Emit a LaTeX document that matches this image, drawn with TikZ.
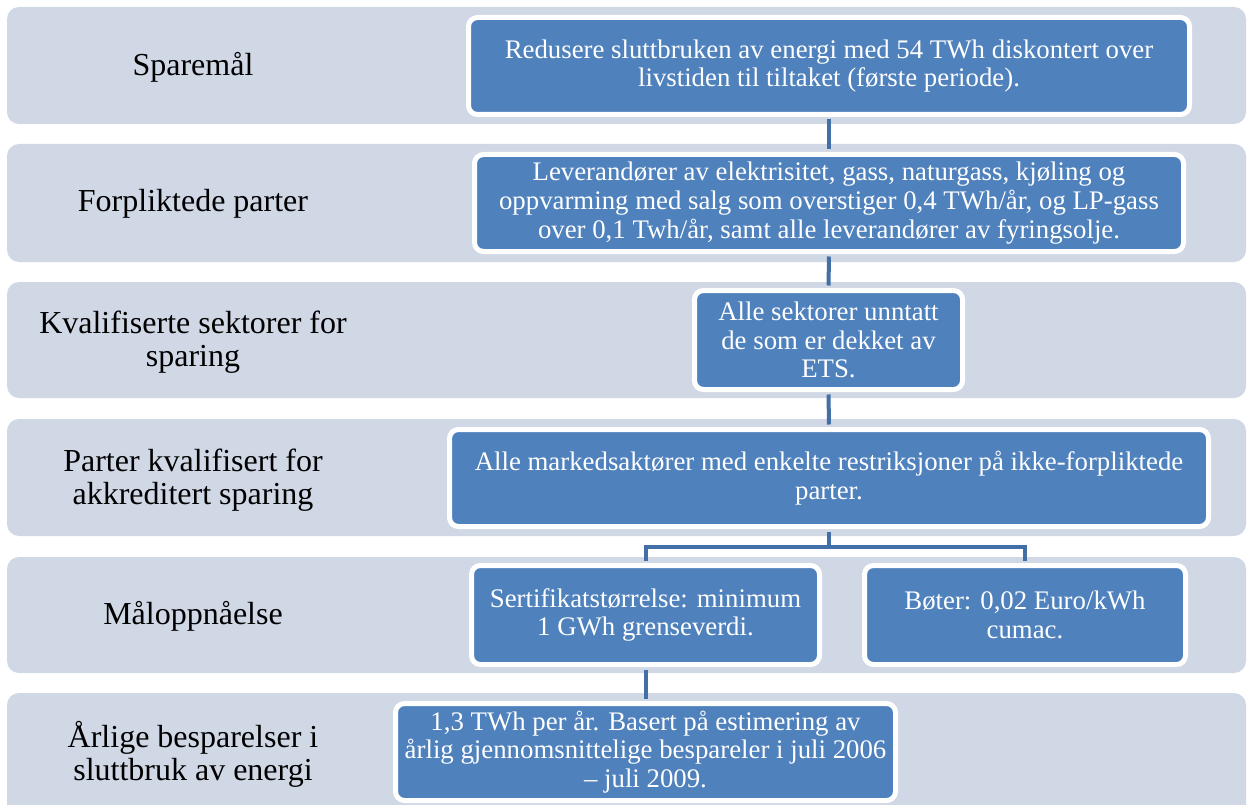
\documentclass[tikz,border=0pt]{standalone}
\usepackage{fontspec}
\setmainfont{Liberation Serif}
\usetikzlibrary{calc}

\definecolor{bandgray}{RGB}{208,215,229}
\definecolor{boxblue}{RGB}{79,129,189}
\definecolor{lineblue}{RGB}{66,112,166}

\begin{document}
\begin{tikzpicture}[x=1pt, y=-1pt,
        band/.style={fill=bandgray, rounded corners=12pt},
        label/.style={align=center, font=\fontsize{32pt}{33pt}\selectfont},
        box/.style={fill=boxblue, draw=white, line width=5pt, rounded corners=9pt,
            text=white, align=center, inner sep=0pt,
            font=\fontsize{26.8pt}{28.8pt}\selectfont},
        link/.style={draw=lineblue, line width=4pt, shorten <=2.5pt, shorten >=2.5pt}]
        \clip (0,0) rectangle (1247,805);
        \fill[white] (0,0) rectangle (1247,805);

        % the six rows
        \fill[band] (7,7) rectangle (1246,124);
        \fill[band] (7,144) rectangle (1246,262);
        \fill[band] (7,282) rectangle (1246,398);
        \fill[band] (7,419) rectangle (1246,536);
        \fill[band] (7,557) rectangle (1246,673);
        \fill[band] (7,693) rectangle (1246,830);

        \node[label] (mal) at (193,67) {Sparemål};
        \node[label] (parter) at (193,204) {Forpliktede parter};
        \node[label] (sektor) at (193,342) {Kvalifiserte sektorer for\\sparing};
        \node[label] (akkred) at (193,480) {Parter kvalifisert for\\akkreditert sparing};
        \node[label] (oppn) at (193,616) {Måloppnåelse};
        \node[label] (besp) at (193,754) {Årlige besparelser i\\sluttbruk av energi};

        % the boxes
        \node[box, minimum width=721pt, minimum height=97pt] (b1) at (829,66)
            {Redusere sluttbruken av energi med 54 TWh diskontert over\\livstiden til tiltaket (første periode).};
        \node[box, minimum width=709pt, minimum height=97pt] (b2) at (829,203)
            {Leverandører av elektrisitet, gass, naturgass, kjøling og\\oppvarming med salg som overstiger 0,4 TWh/år, og LP-gass\\over 0,1 Twh/år, samt alle leverandører av fyringsolje.};
        \node[box, minimum width=268pt, minimum height=99pt] (b3) at (828.5,340)
            {Alle sektorer unntatt\\de som er dekket av\\ETS.};
        \node[box, minimum width=759pt, minimum height=97pt] (b4) at (829,478)
            {Alle markedsaktører med enkelte restriksjoner på ikke-forpliktede\\parter.};
        \node[box, minimum width=348pt, minimum height=99pt] (b5a) at (645.5,615)
            {Sertifikatstørrelse: minimum\\1 GWh grenseverdi.};
        \node[box, minimum width=321pt, minimum height=99pt] (b5b) at (1025,615)
            {Bøter: 0,02 Euro/kWh\\cumac.};
        \node[box, minimum width=500pt, minimum height=97pt] (b6) at (645.5,752)
            {1,3 TWh per år. Basert på estimering av\\årlig gjennomsnittelige bespareler i juli 2006\\– juli 2009.};

        \coordinate (fork) at (829,547);

        \draw[link] (b1.south) -- (b2.north);
        \draw[link] (b2.south) -- (b3.north);
        \draw[link] (b3.south) -- (b4.north);
        \draw[link] (b4.south) -- (fork);
        \draw[link] (b5a.north) |- (fork) -| (b5b.north);
        \draw[link] (b5a.south) -- (b6.north);
\end{tikzpicture}
\end{document}
